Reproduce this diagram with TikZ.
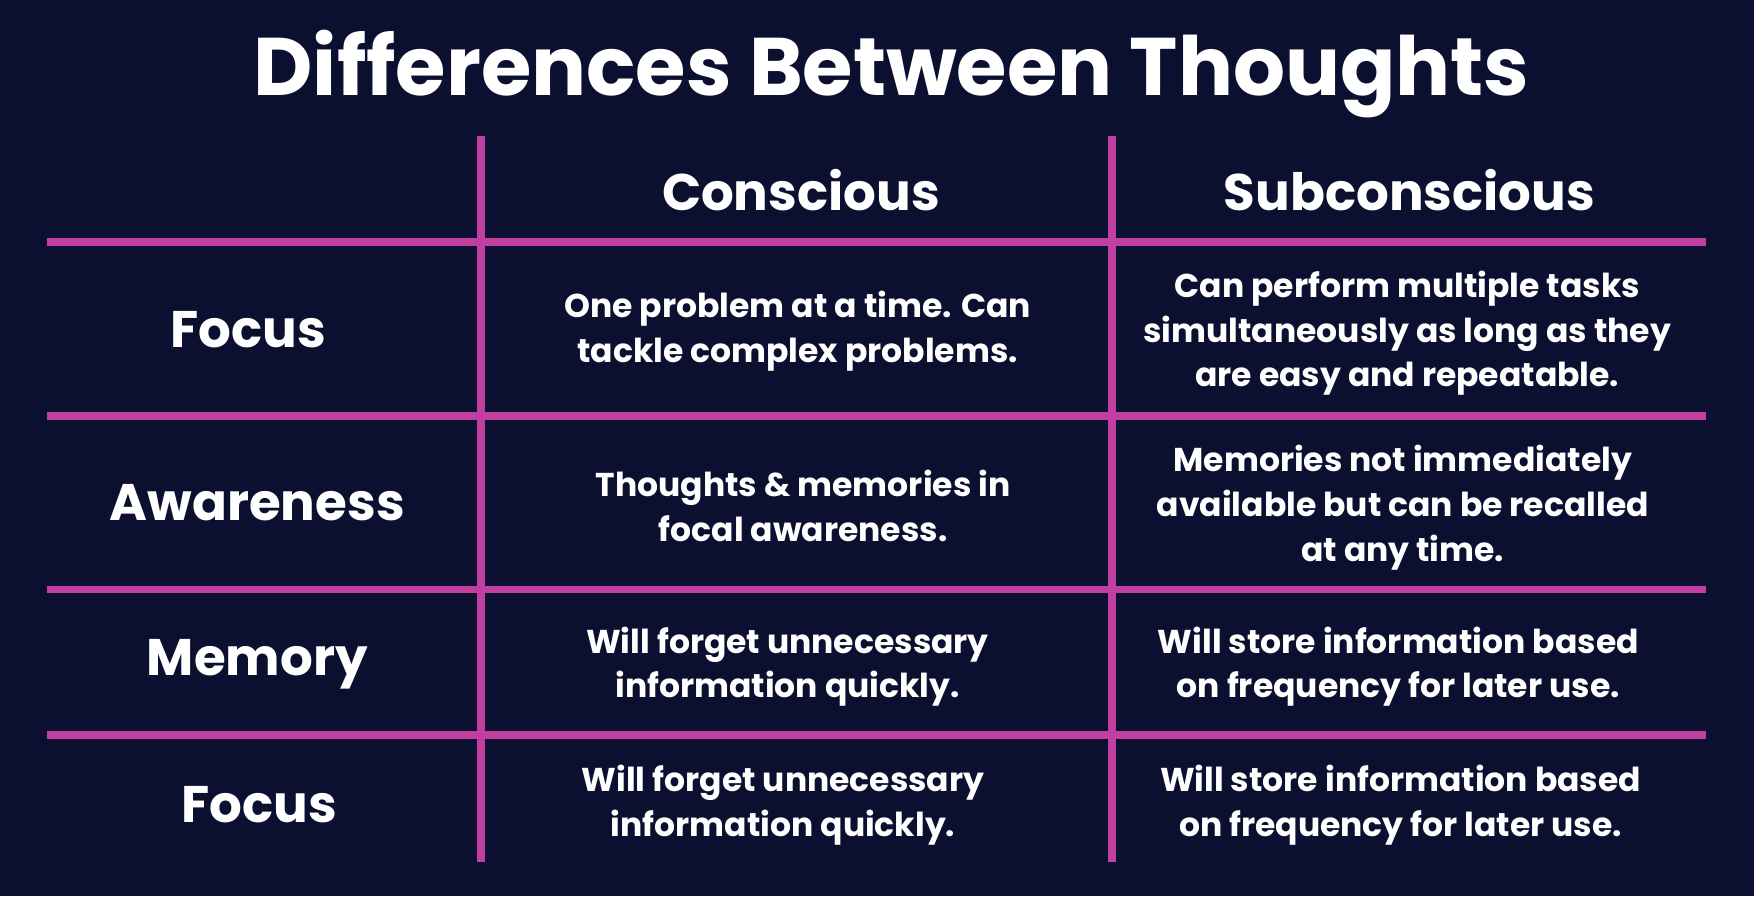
\documentclass[tikz,border=0pt]{standalone}
\usepackage{fontspec}
\setmainfont{Poppins}
\usetikzlibrary{positioning}
\definecolor{navy}{HTML}{0B1030}
\definecolor{grid}{HTML}{C23FA2}

\begin{document}
\begin{tikzpicture}[x=1pt,y=-1pt]
	\tikzstyle{every node}=[align=center, inner sep=1pt, text=white, font=\bfseries]
	\tikzstyle{rule}=[grid, line width=7pt]
	\tikzstyle{head}=[font=\bfseries\fontsize{46}{52}\selectfont]
	\tikzstyle{cell}=[font=\fontsize{29.5}{40}\selectfont\bfseries]
	\fill[navy] (0,0) rectangle (1568,801);
	\useasboundingbox (0,0) rectangle (1568,801);

	\node (title) at (797,66) {\fontsize{73}{80}\selectfont Differences Between Thoughts};

	% grid lines
	\coordinate (v1t) at (430,122); \coordinate (v1b) at (430,771);
	\coordinate (v2t) at (994,122); \coordinate (v2b) at (994,771);
	\draw[rule] (v1t) -- (v1b);
	\draw[rule] (v2t) -- (v2b);
	\foreach \y in {216,372,527,657}{
		\coordinate (hl) at (42,\y); \coordinate (hr) at (1525,\y);
		\draw[rule] (hl) -- (hr);
	}

	\node[head] (cons) at (716,170) {Conscious};
	\node[head] (subc) at (1260,170) {Subconscious};

	\node[head] (focus) at (222,295) {Focus};
	\node[head] (aware) at (230,449) {Awareness};
	\node[head] (mem) at (230,594) {Memory};
	\node[head] (focusb) at (232,719) {Focus};

	\node[cell] (c1) at (713,296) {One problem at a time. Can\\tackle complex problems.};
	\node[cell] (s1) at (1258,298) {Can perform multiple tasks\\simultaneously as long as they\\are easy and repeatable.};
	\node[cell] (c2) at (718,452) {Thoughts \& memories in\\focal awareness.};
	\node[cell] (s2) at (1254,454) {Memories not immediately\\available but can be recalled\\at any time.};
	\node[cell] (c3) at (704,596) {Will forget unnecessary\\information quickly.};
	\node[cell] (s3) at (1250,596) {Will store information based\\on frequency for later use.};
	\node[cell] (c4) at (700,720) {Will forget unnecessary\\information quickly.};
	\node[cell] (s4) at (1252,720) {Will store information based\\on frequency for later use.};
\end{tikzpicture}
\end{document}
